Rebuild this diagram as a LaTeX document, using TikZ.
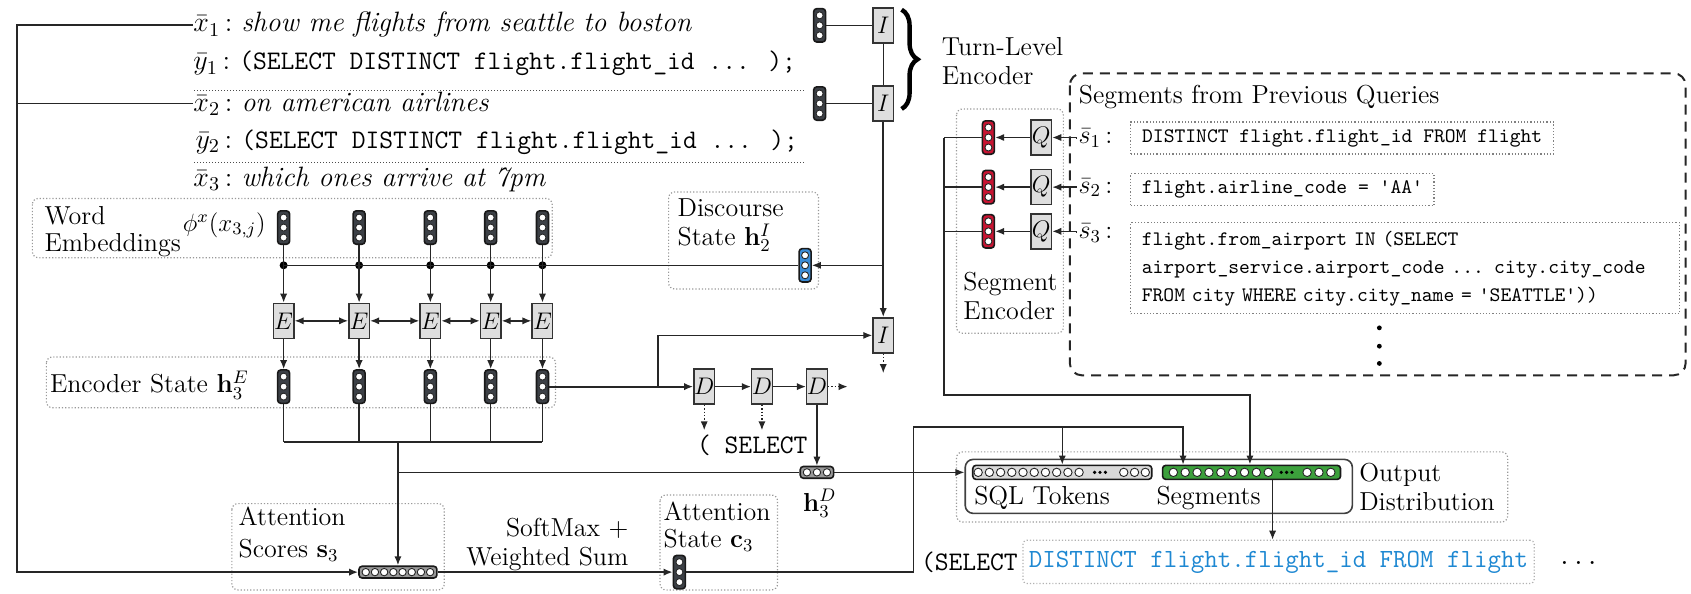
\RequirePackage{fix-cm}
\documentclass[tikz,border=0pt]{standalone}
\usetikzlibrary{arrows.meta,calc,decorations.pathreplacing}
\definecolor{vdark}{RGB}{60,64,70}
\definecolor{vred}{RGB}{200,20,50}
\definecolor{vblue}{RGB}{58,140,215}
\definecolor{vgreen}{RGB}{60,160,60}
\definecolor{tblue}{RGB}{30,136,210}
\definecolor{gatefill}{RGB}{222,222,222}
\newcommand{\tcode}[1]{{\fontsize{13.4}{15}\selectfont\ttfamily #1}}
\tikzset{
 ln/.style={draw=black!85, line width=0.7pt},
 arr/.style={ln, -{Latex[length=4.5pt,width=3.6pt]}},
 darr/.style={arr, densely dotted},
 barr/.style={ln, {Latex[length=4.5pt,width=3.6pt]}-{Latex[length=4.5pt,width=3.6pt]}},
 dbox/.style={draw=black!40, densely dotted, rounded corners=3pt, line width=0.6pt},
 gate/.style={draw=black!80, fill=gatefill, minimum width=10.3pt, minimum height=17.5pt, inner sep=0pt, line width=0.7pt, font=\fontsize{12}{12}\selectfont},
 vv/.style={draw=black!90, line width=0.8pt, rounded corners=1.6pt, minimum width=6pt, minimum height=16.7pt, inner sep=0pt},
 hv/.style={draw=black!90, line width=0.8pt, rounded corners=1.6pt, minimum height=5.9pt, inner sep=0pt},
 cw/.style={draw=black!85, fill=white, line width=0.45pt},
 dot/.style={circle, fill=black, inner sep=0pt, minimum size=4pt},
 lbl/.style={inner sep=0pt, align=left, font=\fontsize{13}{14.5}\selectfont},
 row/.style={inner sep=0pt, anchor=west, font=\fontsize{14}{15}\selectfont},
 code/.style={draw=black!50, densely dotted, line width=0.6pt, inner xsep=5.5pt, inner ysep=0pt, align=left, font=\fontsize{10.3}{14}\selectfont\ttfamily},
}
\newcommand{\vvec}[4]{\node[vv, fill=#4] (#1) at (#2,#3) {};
 \foreach \k in {-1,0,1} {\draw[cw] ($(#1.center)+(0pt,\k*5pt)$) circle (1.75pt);}}
\newcommand{\hvec}[7]{\node[hv, fill=#4, minimum width=#6] (#1) at (#2,#3) {};
 \foreach \k in {1,...,#5} {\draw[cw] ($(#1.center)+({(\k-(#5+1)/2)*#7},0pt)$) circle (1.85pt);}}
\begin{document}
\begin{tikzpicture}[x=0.5393pt,y=-0.5393pt]
\useasboundingbox (0,0) rectangle (1568,550);
\coordinate (lcol) at (16,0);
% ---------- dialogue history ----------
\node[row] (x1) at (179,23) {$\bar{x}_1$\,:\ \textit{show me flights from seattle to boston}};
\node[row] (y1) at (179,59) {$\bar{y}_1$\,:\ \tcode{(SELECT DISTINCT flight.flight\_id ... );}};
\node[row] (x2) at (179,96) {$\bar{x}_2$\,:\ \textit{on american airlines}};
\node[row] (y2) at (181,132) {$\bar{y}_2$\,:\ \tcode{(SELECT DISTINCT flight.flight\_id ... );}};
\node[row] (x3) at (179,166) {$\bar{x}_3$\,:\ \textit{which ones arrive at 7pm}};
\draw[black!70, densely dotted, line width=0.5pt] (180,84) -- (747,84);
\draw[black!70, densely dotted, line width=0.5pt] (180,151) -- (747,151);
% ---------- turn-level encoder ----------
\vvec{tv1}{760}{23.5}{vdark}
\vvec{tv2}{760}{96}{vdark}
\node[gate] (I1) at (819,23.5) {$I$};
\node[gate] (I2) at (819,96) {$I$};
\node[gate] (I3) at (819,311) {$I$};
\draw[ln] (tv1.east) -- (I1.west);
\draw[ln] (tv2.east) -- (I2.west);
\draw[ln] (I1.south) -- (I2.north);
\draw[decorate, decoration={brace, amplitude=8pt, aspect=0.5}, line width=2.2pt] (836,9) -- (836,101);
\node[lbl, anchor=west] (tle) at (873,56.5) {Turn-Level\\Encoder};
% ---------- segments from previous queries ----------
\draw[draw=black!85, line width=1pt, dash pattern=on 5pt off 3.5pt, rounded corners=6pt] (992,68) rectangle (1563,348);
\node[lbl, anchor=west] (segt) at (1000,90) {Segments from Previous Queries};
\node[lbl, anchor=west, inner sep=1pt] (s1) at (998,128) {$\bar{s}_1$\,:};
\node[lbl, anchor=west, inner sep=1pt] (s2) at (998,174) {$\bar{s}_2$\,:};
\node[lbl, anchor=west, inner sep=1pt] (s3) at (998,216) {$\bar{s}_3$\,:};
\node[code, anchor=west, minimum height=16pt, minimum width=211.4pt] (c1) at (1048,128) {DISTINCT flight.flight\_id FROM flight};
\node[code, anchor=west, minimum height=16pt, minimum width=151pt] (c2) at (1048,176) {flight.airline\_code = \textquotesingle AA\textquotesingle};
\node[code, anchor=north west, minimum height=45.5pt, text width=263.5pt] (c3b) at (1048,206) {flight.from\_airport IN (SELECT\\airport\_service.airport\_code ... city.city\_code\\FROM city WHERE city.city\_name = \textquotesingle SEATTLE\textquotesingle))};
\fill (1279,304) circle (1.2pt);
\fill (1279,321) circle (1.2pt);
\fill (1279,337) circle (1.2pt);
% ---------- segment encoder ----------
\draw[dbox] (887,101) rectangle (986,309);
\vvec{r1}{916.5}{127.5}{vred}
\vvec{r2}{916.5}{173.5}{vred}
\vvec{r3}{916.5}{214.5}{vred}
\node[gate] (Q1) at (965.5,127.5) {$Q$};
\node[gate] (Q2) at (965.5,173.5) {$Q$};
\node[gate] (Q3) at (965.5,214.5) {$Q$};
\node[lbl, anchor=west] (sel) at (893,274.5) {Segment\\Encoder};
\foreach \i in {1,2,3} {
 \draw[arr] (s\i.west) -- (Q\i.east -| s\i.west) -- (Q\i.east);
 \draw[arr] (Q\i.west) -- (r\i.east);
}
\coordinate (sb) at (875,366);
\coordinate (t3) at (1159,0);
\draw[ln] (r1.west) -- (r1.west -| sb);
\draw[ln] (r2.west) -- (r2.west -| sb);
\draw[ln] (r3.west) -- (r3.west -| sb);
% ---------- word embeddings / encoder ----------
\draw[dbox] (30,184) rectangle (512,239);
\node[lbl, anchor=west, font=\fontsize{13}{13.5}\selectfont] (wel) at (41,214.5) {Word\\Embeddings};
\node[inner sep=0pt, font=\fontsize{12.5}{13}\selectfont] (phi) at (208,209) {$\phi^x(x_{3,j})$};
\draw[dbox] (620,178) rectangle (759,268);
\node[lbl, anchor=west, font=\fontsize{13}{14.5}\selectfont] (dsl) at (628,209) {Discourse\\State $\mathbf{h}_2^I$};
\vvec{disc}{746.5}{246}{vblue}
\draw[dbox] (43,331) rectangle (515,378);
\node[lbl, anchor=west] (esl) at (46,357) {Encoder State $\mathbf{h}_3^E$};
\foreach \xx [count=\i] in {263,333,399,455,503} {
 \vvec{w\i}{\xx}{211}{vdark}
 \node[dot] (d\i) at (\xx,246) {};
 \node[gate] (E\i) at (\xx,297.5) {$E$};
 \vvec{h\i}{\xx}{358.5}{vdark}
 \draw[ln] (w\i.south) -- (d\i.center);
 \draw[arr] (d\i.center) -- (E\i.north);
 \draw[arr] (E\i.south) -- (h\i.north);
}
\foreach \a/\b in {1/2,2/3,3/4,4/5} {\draw[barr] (E\a.east) -- (E\b.west);}
\draw[ln] (disc.west) -- (d1.center);
\draw[arr, line width=0.9pt] (I2.south) -- (I3.north);
\draw[arr] (I2 |- disc) -- (disc.east);
% ---------- decoder ----------
\node[gate] (D1) at (653,358.5) {$D$};
\node[gate] (D2) at (706.5,358.5) {$D$};
\node[gate] (D3) at (757.5,358.5) {$D$};
\coordinate (br) at (610,358.5);
\draw[arr, line width=1pt] (h5.east) -- (D1.west);
\draw[arr] (br) |- (I3.west);
\draw[arr] (D1.east) -- (D2.west);
\draw[arr] (D2.east) -- (D3.west);
\coordinate (dend) at (786,358.5);
\draw[darr] (D3.east) -- (dend);
\coordinate (dd1) at (653,399);
\coordinate (dd2) at (706.5,399);
\coordinate (iend) at (819,346);
\draw[darr] (D1.south) -- (dd1);
\draw[darr] (D2.south) -- (dd2);
\draw[darr] (I3.south) -- (iend);
\node[inner sep=0pt, anchor=west] (sel1) at (646,413) {\tcode{( SELECT}};
\hvec{hD}{757.5}{438}{black!40}{3}{16.7pt}{5pt}
\draw[arr] (D3.south) -- (hD.north);
\node[inner sep=0pt, font=\fontsize{13}{13}\selectfont] (hDl) at (760,467) {$\mathbf{h}_3^D$};
% ---------- attention ----------
\draw[dbox] (215,467) rectangle (412,547);
\node[lbl, anchor=west, font=\fontsize{13}{16}\selectfont] (asl) at (221,495) {Attention\\Scores $\mathbf{s}_3$};
\hvec{att}{369}{530.5}{black!40}{8}{39pt}{4.6pt}
\coordinate (eb) at (369,410);
\foreach \i in {1,...,5} {\draw[ln] (h\i.south) -- (h\i.south |- eb);}
\draw[ln, line width=1pt] (h1.south |- eb) -- (h5.south |- eb);
\draw[arr, line width=1.2pt] (eb) -- (att.north);
\draw[ln] (eb |- hD) -- (hD.west);
\draw[arr, line width=0.8pt] (x1.west) -| (lcol |- att) -- (att.west);
\draw[ln, line width=0.8pt] (x2.west) -- (x2.west -| lcol);
\node[lbl, anchor=east, align=right] (smx) at (583,505) {SoftMax $+$\\Weighted Sum};
\draw[dbox] (612,459) rectangle (721,547);
\node[lbl, anchor=west, font=\fontsize{13}{13.5}\selectfont] (ast) at (615,488) {Attention\\State $\mathbf{c}_3$};
\vvec{c3}{630}{530.5}{vdark}
\draw[arr] (att.east) -- (c3.west);
% ---------- output distribution ----------
\draw[dbox] (887,419) rectangle (1398,484);
\node[draw=black!75, line width=0.8pt, rounded corners=4pt, minimum width=193.6pt, minimum height=27pt, inner sep=0pt] (outb) at (1074.5,451) {};
\node[hv, fill=black!15, minimum width=89.5pt, minimum height=7pt] (sqlv) at (985,438) {};
\node[hv, fill=vgreen, minimum width=89pt, minimum height=7pt] (segv) at (1160.5,438) {};
\foreach \i in {0,...,9} {\draw[cw] (907+10.4*\i,438) circle (2.1pt);}
\foreach \xx in {1015,1020,1025} {\fill (\xx,438) circle (0.9pt);}
\foreach \xx in {1042,1052,1062} {\draw[cw] (\xx,438) circle (2.1pt);}
\foreach \i in {0,...,8} {\draw[cw] (1088+11*\i,438) circle (2.1pt);}
\foreach \xx in {1188,1193,1198} {\fill (\xx,438) circle (0.9pt);}
\foreach \xx in {1212,1223,1234} {\draw[cw] (\xx,438) circle (2.1pt);}
\node[lbl, anchor=west] (sqll) at (903,462) {SQL Tokens};
\node[lbl, anchor=west] (segl) at (1072,462) {Segments};
\node[lbl, anchor=west] (odl) at (1260,452) {Output\\Distribution};
\draw[arr, line width=1.1pt] (r1.west -| sb) -- (sb) -| (segv.north -| t3);
\coordinate (cA) at (847,396);
\coordinate (t1) at (985,0);
\coordinate (t2) at (1097,0);
\coordinate (t4) at (1180,0);
\draw[arr] (c3.east) -| (cA) -| (segv.north -| t2);
\draw[arr] (t1 |- cA) -- (sqlv.north -| t1);
\draw[arr] (hD.east) -- (hD.east -| outb.west);
% ---------- generated query ----------
\node[draw=black!30, densely dotted, rounded corners=2pt, line width=0.6pt, inner xsep=3pt, anchor=west, minimum height=21.6pt, font=\fontsize{13.1}{14}\selectfont\ttfamily, text=tblue] (bbox) at (948,521) {DISTINCT flight.flight\_id FROM flight};
\node[inner sep=0pt, anchor=east] (psel) at (944,521) {\tcode{(SELECT}};
\node[inner sep=0pt, anchor=west] (pdots) at (1444,522) {\tcode{...}};
\draw[arr] (segv.south -| t4) -- (bbox.north -| t4);
\end{tikzpicture}
\end{document}
